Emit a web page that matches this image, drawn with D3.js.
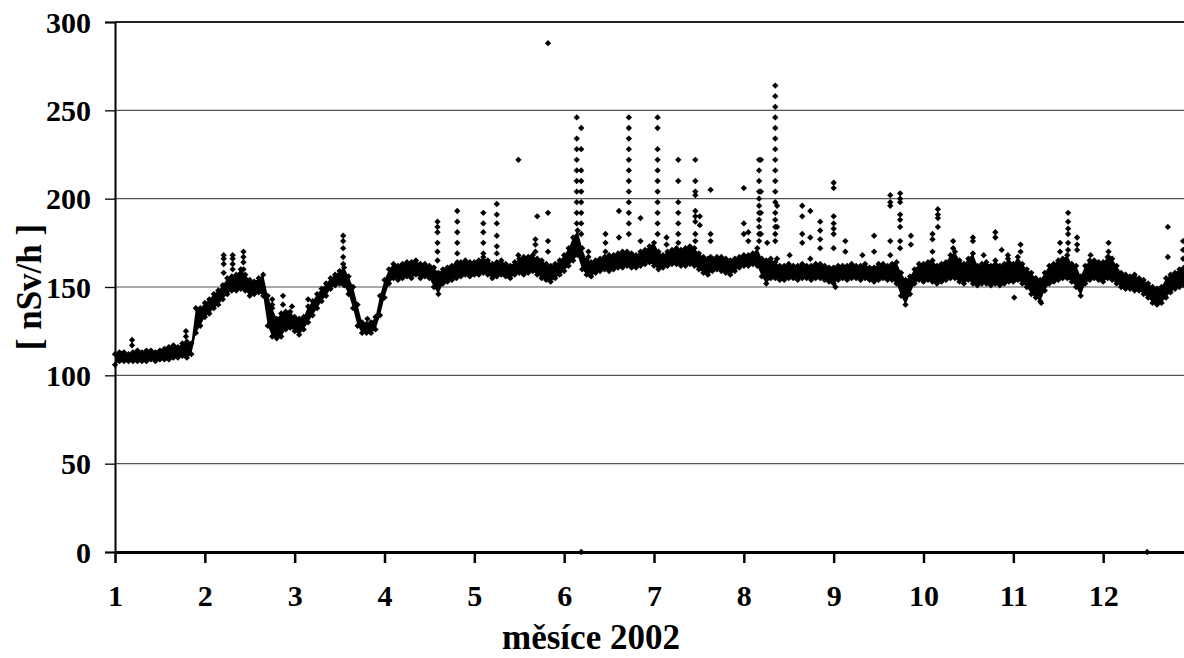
<!DOCTYPE html>
<html>
<head>
<meta charset="utf-8">
<script src="https://cdn.jsdelivr.net/npm/d3@7"></script>
<style>
    body { margin: 0; background: #fff; }
    text { font-family: "Liberation Serif", "Times New Roman", serif; font-weight: bold; fill: #000; }
</style>
</head>
<body>
<svg id="chart"></svg>
<script>
'use strict';

// month ticks and value ticks
const monthTicks = [1, 2, 3, 4, 5, 6, 7, 8, 9, 10, 11, 12];
const valueTicks = [0, 50, 100, 150, 200, 250, 300];

// the dense band of measurements, one lo/hi pair every 0.05 month from month 1
const bandStart = 1;
const bandStep = 0.05;
const bandLow = [
    106, 108, 108, 108, 108, 108, 108, 108, 109, 108,
    109, 109, 109, 110, 110, 111, 110, 112, 124, 128,
    133, 135, 138, 140, 143, 146, 148, 148, 149, 148,
    145, 146, 147, 145, 128, 122, 121, 122, 126, 127,
    125, 123, 126, 130, 134, 138, 142, 145, 149, 151,
    152, 151, 146, 138, 128, 124, 124, 124, 126, 134,
    144, 152, 155, 154, 155, 156, 155, 157, 155, 156,
    155, 150, 146, 152, 153, 154, 155, 156, 157, 156,
    157, 157, 158, 157, 155, 156, 157, 156, 155, 157,
    158, 157, 158, 159, 157, 155, 154, 153, 155, 157,
    159, 162, 165, 168, 160, 157, 156, 158, 159, 160,
    159, 160, 161, 161, 162, 161, 161, 162, 163, 164,
    162, 160, 161, 162, 163, 163, 162, 162, 163, 162,
    160, 158, 157, 159, 160, 159, 158, 157, 159, 161,
    162, 162, 163, 162, 156, 152, 155, 155, 154, 154,
    155, 155, 154, 155, 155, 154, 155, 155, 154, 153,
    152, 154, 155, 154, 155, 155, 154, 155, 154, 153,
    154, 155, 154, 154, 152, 145, 140, 146, 152, 154,
    153, 154, 153, 152, 153, 154, 155, 155, 153, 152,
    154, 152, 151, 152, 152, 151, 152, 151, 152, 153,
    153, 154, 152, 150, 146, 144, 142, 148, 152, 153,
    154, 155, 155, 153, 150, 145, 152, 154, 155, 154,
    153, 155, 154, 152, 150, 149, 149, 148, 148, 146,
    144, 141, 140, 141, 144, 147, 149, 150, 151
];
const bandHigh = [
    112, 113, 113, 112, 113, 114, 113, 114, 114, 113,
    114, 115, 116, 117, 116, 118, 119, 118, 138, 138,
    141, 143, 146, 148, 151, 155, 156, 157, 160, 157,
    154, 153, 155, 157, 145, 138, 132, 135, 136, 136,
    133, 132, 133, 139, 142, 146, 149, 152, 155, 157,
    159, 161, 156, 150, 140, 130, 129, 130, 133, 145,
    154, 160, 163, 162, 163, 164, 164, 165, 163, 163,
    162, 161, 158, 160, 161, 162, 163, 164, 165, 164,
    164, 165, 167, 165, 163, 164, 165, 163, 162, 164,
    166, 167, 167, 168, 166, 165, 163, 162, 163, 165,
    168, 172, 178, 182, 172, 165, 164, 165, 166, 167,
    168, 168, 169, 170, 170, 169, 168, 170, 171, 173,
    175, 170, 168, 170, 171, 172, 171, 172, 173, 172,
    169, 167, 166, 166, 167, 167, 166, 165, 166, 167,
    168, 168, 169, 172, 166, 165, 166, 164, 162, 162,
    163, 162, 162, 163, 162, 162, 163, 163, 162, 161,
    161, 162, 162, 162, 163, 162, 162, 163, 161, 161,
    163, 163, 162, 163, 164, 158, 154, 156, 160, 163,
    163, 164, 165, 162, 163, 164, 168, 170, 165, 163,
    166, 169, 162, 163, 164, 162, 165, 162, 163, 164,
    163, 167, 163, 160, 158, 155, 154, 158, 162, 163,
    165, 166, 168, 163, 162, 156, 162, 165, 165, 164,
    164, 167, 166, 162, 158, 157, 156, 157, 155, 154,
    152, 150, 149, 150, 155, 157, 158, 160, 161
];

// isolated readings that stand out above / below the band
const spikes = [
    { m: 1.19, v: [117, 120] },
    { m: 1.79, v: [122, 125] },
    { m: 2.21, v: [158, 163, 166, 168] },
    { m: 2.31, v: [160, 163, 166, 168] },
    { m: 2.43, v: [160, 164, 167, 170] },
    { m: 2.75, v: [140, 143] },
    { m: 2.87, v: [140, 145] },
    { m: 2.97, v: [139] },
    { m: 3.15, v: [143] },
    { m: 3.54, v: [163, 167, 172, 176, 179] },
    { m: 3.81, v: [132] },
    { m: 4.59, v: [165, 170, 175, 181, 184, 187] },
    { m: 4.81, v: [164, 169, 175, 181, 187, 193] },
    { m: 5.10, v: [169, 175, 181, 186, 192] },
    { m: 5.25, v: [169, 173, 179, 186, 191, 197] },
    { m: 5.49, v: [168, 222] },
    { m: 5.68, v: [170, 174, 177] },
    { m: 5.70, v: [190] },
    { m: 5.82, v: [170, 176, 192, 288] },
    { m: 6.14, v: [186, 192, 198, 204, 210, 216, 222, 228, 234, 246] },
    { m: 6.19, v: [0, 180, 186, 192, 198, 204, 210, 216, 228, 240] },
    { m: 6.27, v: [163, 167, 170] },
    { m: 6.46, v: [170, 175, 180] },
    { m: 6.61, v: [178, 193] },
    { m: 6.72, v: [180, 186, 192, 198, 204, 210, 216, 222, 228, 234, 240, 246] },
    { m: 6.85, v: [176, 189] },
    { m: 7.04, v: [180, 186, 192, 198, 204, 210, 216, 222, 228, 240, 246] },
    { m: 7.14, v: [174, 178] },
    { m: 7.27, v: [175, 180, 186, 192, 198, 210, 222] },
    { m: 7.46, v: [176, 180, 187, 190, 193, 202, 204, 210, 222] },
    { m: 7.51, v: [185, 190] },
    { m: 7.63, v: [167, 176, 180, 205] },
    { m: 8.00, v: [180, 186, 206] },
    { m: 8.05, v: [176, 181] },
    { m: 8.17, v: [176, 180, 184, 188, 192, 196, 200, 204, 210, 216, 222] },
    { m: 8.19, v: [180, 192, 204, 222] },
    { m: 8.26, v: [175] },
    { m: 8.35, v: [176, 180, 184, 188, 192, 198, 204, 210, 216, 222, 228, 234, 240, 246, 252, 258, 264] },
    { m: 8.37, v: [166, 184, 196] },
    { m: 8.51, v: [168] },
    { m: 8.65, v: [175, 180, 190, 196] },
    { m: 8.74, v: [166, 178, 193] },
    { m: 8.85, v: [172, 177, 182, 187] },
    { m: 9.00, v: [172, 180, 183, 186, 190, 206, 209] },
    { m: 9.02, v: [150] },
    { m: 9.13, v: [170, 176] },
    { m: 9.32, v: [168] },
    { m: 9.45, v: [170, 179] },
    { m: 9.63, v: [168, 176, 196, 198, 202] },
    { m: 9.74, v: [172, 176, 184, 188, 191, 198, 200, 203] },
    { m: 9.86, v: [174, 179] },
    { m: 10.10, v: [170, 177, 180] },
    { m: 10.16, v: [184, 189, 191, 194] },
    { m: 10.33, v: [172, 176] },
    { m: 10.55, v: [176, 178] },
    { m: 10.67, v: [168] },
    { m: 10.80, v: [178, 181] },
    { m: 10.87, v: [171] },
    { m: 10.94, v: [166, 168] },
    { m: 11.01, v: [144] },
    { m: 11.08, v: [170, 174] },
    { m: 11.31, v: [141] },
    { m: 11.52, v: [170, 175] },
    { m: 11.61, v: [171, 175, 180, 183, 187, 192] },
    { m: 11.71, v: [171, 174, 178] },
    { m: 11.86, v: [168] },
    { m: 12.06, v: [167, 170, 175] },
    { m: 12.49, v: [0] },
    { m: 12.72, v: [167, 184] },
    { m: 12.89, v: [166, 171, 176] }
];

function getChartConfig() {
    let width = 1184, height = 658;
    let plot = { left: 115, right: 1193, top: 22, bottom: 552 };
    let svg = d3.select("#chart")
        .attr("width", width)
        .attr("height", height);
    return { width, height, plot, svg };
}

function getScales(config) {
    let { plot } = config;
    let xScale = d3.scaleLinear().domain([1, 13]).range([plot.left, plot.right]);
    let yScale = d3.scaleLinear().domain([0, 300]).range([plot.bottom, plot.top]);
    return { xScale, yScale };
}

function drawGrid(config, scales) {
    let { svg, plot } = config;
    let { yScale } = scales;

    svg.append("g")
        .selectAll("line")
        .data(valueTicks.filter(d => d > 0))
        .enter()
        .append("line")
        .attr("x1", plot.left)
        .attr("x2", plot.right)
        .attr("y1", d => yScale(d))
        .attr("y2", d => yScale(d))
        .style("stroke", d => d == 300 ? "#222" : "#555")
        .style("stroke-width", d => d == 300 ? 2 : 1.2);
}

function drawPoints(config, scales) {
    let { svg } = config;
    let { xScale, yScale } = scales;

    let band = bandLow.map((lo, i) => ({ m: bandStart + i * bandStep, lo: lo, hi: bandHigh[i] }));

    // solid core of the overlapping markers
    let area = d3.area()
        .x(d => xScale(d.m))
        .y0(d => yScale(d.lo))
        .y1(d => yScale(d.hi));

    svg.append("path")
        .datum(band)
        .attr("d", area)
        .attr("fill", "#000");

    let points = [];
    band.forEach(d => {
        points.push({ m: d.m, v: d.lo });
        points.push({ m: d.m, v: d.hi });
    });
    spikes.forEach(s => s.v.forEach(v => points.push({ m: s.m, v: v })));

    let marker = d3.symbol().type(d3.symbolSquare).size(20);

    svg.append("g")
        .selectAll("path")
        .data(points)
        .enter()
        .append("path")
        .attr("d", marker)
        .attr("transform", d => "translate(" + xScale(d.m) + "," + yScale(d.v) + ") rotate(45)")
        .attr("fill", "#000");
}

function drawAxis(config, scales) {
    let { svg, plot } = config;
    let { xScale, yScale } = scales;

    let yAxis = d3.axisLeft(yScale)
        .tickValues(valueTicks)
        .tickSize(10)
        .tickPadding(14)
        .tickFormat(d3.format("d"));

    let yg = svg.append("g")
        .attr("transform", "translate(" + plot.left + ",0)")
        .call(yAxis);
    yg.select(".domain").style("stroke", "#000").style("stroke-width", 2);
    yg.selectAll(".tick line").style("stroke", "#000").style("stroke-width", 1.3);
    yg.selectAll(".tick text").style("font-size", "30px").attr("dy", "0.34em");

    let xAxis = d3.axisBottom(xScale)
        .tickValues(monthTicks)
        .tickSize(11)
        .tickSizeOuter(0)
        .tickPadding(22)
        .tickFormat(d3.format("d"));

    let xg = svg.append("g")
        .attr("transform", "translate(0," + plot.bottom + ")")
        .call(xAxis);
    xg.select(".domain").style("stroke", "#000").style("stroke-width", 3);
    xg.selectAll(".tick line").style("stroke", "#000").style("stroke-width", 2.5);
    xg.selectAll(".tick text").style("font-size", "30px").attr("dy", "0.71em");

    svg.append("text")
        .attr("x", 591)
        .attr("y", 649)
        .attr("text-anchor", "middle")
        .style("font-size", "35px")
        .text("měsíce 2002");

    svg.append("text")
        .attr("transform", "translate(41,287) rotate(-90)")
        .attr("text-anchor", "middle")
        .style("font-size", "35px")
        .text("[ nSv/h ]");
}

function drawChart() {
    let config = getChartConfig();
    let scales = getScales(config);
    drawGrid(config, scales);
    drawPoints(config, scales);
    drawAxis(config, scales);
}

drawChart();
</script>
</body>
</html>
